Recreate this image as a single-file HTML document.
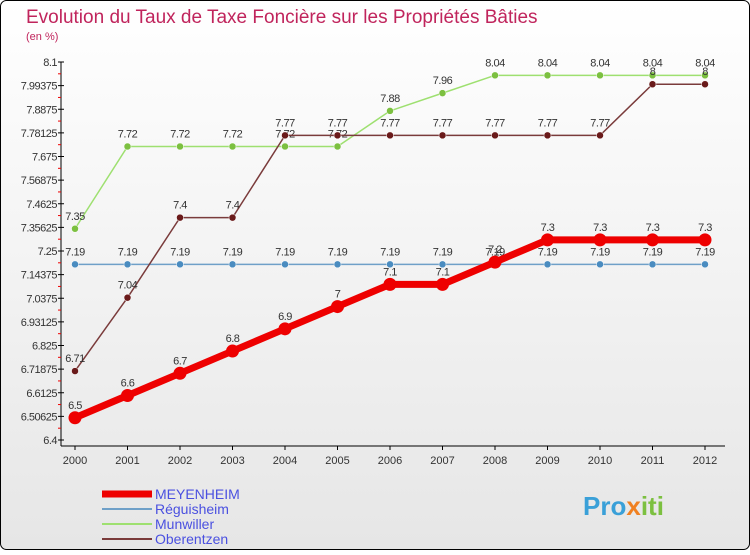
<!DOCTYPE html>
<html><head><meta charset="utf-8"><style>
body{margin:0;width:750px;height:550px;overflow:hidden;font-family:"Liberation Sans",sans-serif}
svg text{font-family:"Liberation Sans",sans-serif}
</style></head><body>
<svg id="c" width="750" height="550" xmlns="http://www.w3.org/2000/svg">
<defs><linearGradient id="bg" x1="0" y1="0" x2="0" y2="1"><stop offset="0" stop-color="#ffffff"/><stop offset="1" stop-color="#e6e6e6"/></linearGradient></defs>
<rect x="0.5" y="0.5" width="749" height="549" rx="6" fill="url(#bg)" stroke="#000"/>
<text x="26" y="23" font-size="19" fill="#c0245c">Evolution du Taux de Taxe Foncière sur les Propriétés Bâties</text>
<text x="26" y="40" font-size="11" fill="#c0245c">(en %)</text>
<g id="axes"></g><g id="series"></g><g id="legend"></g>
<text x="583" y="515" font-size="26" font-weight="bold" fill="#3aa0d8">Pro<tspan fill="#f08020">x</tspan><tspan fill="#7cc040">iti</tspan></text>
</svg>
<script>
const years=[2000,2001,2002,2003,2004,2005,2006,2007,2008,2009,2010,2011,2012];
const yTicks=[6.4,6.50625,6.6125,6.71875,6.825,6.93125,7.0375,7.14375,7.25,7.35625,7.4625,7.56875,7.675,7.78125,7.8875,7.99375,8.1];
const meyenheim=[6.5,6.6,6.7,6.8,6.9,7,7.1,7.1,7.2,7.3,7.3,7.3,7.3];
const reguisheim=[7.19,7.19,7.19,7.19,7.19,7.19,7.19,7.19,7.19,7.19,7.19,7.19,7.19];
const munwiller=[7.35,7.72,7.72,7.72,7.72,7.72,7.88,7.96,8.04,8.04,8.04,8.04,8.04];
const oberentzen=[6.71,7.04,7.4,7.4,7.77,7.77,7.77,7.77,7.77,7.77,7.77,8,8];
const seriesNames=["MEYENHEIM","Réguisheim","Munwiller","Oberentzen"];
const NS="http://www.w3.org/2000/svg";
const yMin=6.4,yMax=8.1,yTop=62,yBot=440,x0=75,x1=705,axisX=61;
const X=i=>x0+(x1-x0)*i/(years.length-1);
const Y=v=>yBot-(v-yMin)/(yMax-yMin)*(yBot-yTop);
function mk(tag,attrs,parent,text){const e=document.createElementNS(NS,tag);for(const k in attrs)e.setAttribute(k,attrs[k]);if(text!==undefined)e.textContent=text;parent.appendChild(e);return e;}
const ax=document.getElementById('axes');
let e=mk('line',{x1:axisX,y1:yTop,x2:axisX,y2:yBot+6,stroke:'#000'},ax);


e=mk('line',{x1:axisX,y1:yBot+6,x2:x1+20,y2:yBot+6,stroke:'#000'},ax);


yTicks.forEach((t,i)=>{const y=Y(t);
 mk('line',{x1:axisX-3,y1:y,x2:axisX+3,y2:y,stroke:'#000'},ax);
 if(i<yTicks.length-1){mk('line',{x1:axisX-3,y1:(y+Y(yTicks[i+1]))/2,x2:axisX,y2:(y+Y(yTicks[i+1]))/2,stroke:'#e00'},ax);}
 const l=mk('text',{x:axisX-4,y:y+4,'font-size':11,'text-anchor':'end',fill:'#333','letter-spacing':'-0.5'},ax,String(t));
 
 
});
years.forEach((yr,i)=>{const x=X(i);
 mk('line',{x1:x,y1:yBot+6,x2:x,y2:yBot+10,stroke:'#000'},ax);
 const l=mk('text',{x:x,y:yBot+24,'font-size':11,'text-anchor':'middle',fill:'#333'},ax,String(yr));
 
 
});
const sg=document.getElementById('series');
const defs=[[reguisheim,'#6fa0c8',1.5,3.5,'#4a8cc0'],[munwiller,'#9ee070',1.5,3.5,'#7cc040'],[oberentzen,'#7a3b3b',1.5,3.5,'#6a1a1a'],[meyenheim,'#ee0000',7,6.5,'#ee0000']];
const names=['reguisheim','munwiller','oberentzen','meyenheim'];
defs.forEach((d,k)=>{const [vals,col,w,r,mc]=d;
 const g=mk('g',{},sg);
 
 
 const p=mk('polyline',{points:vals.map((v,i)=>X(i)+','+Y(v)).join(' '),fill:'none',stroke:col,'stroke-width':w,'stroke-linejoin':'round'},g);
 
 
 vals.forEach((v,i)=>{
  const c=mk('circle',{cx:X(i),cy:Y(v),r:r,fill:mc,stroke:'#fff','stroke-width':k==3?0:0.5},g);
  
  
  const t=mk('text',{x:X(i),y:Y(v)-9,'font-size':11,'text-anchor':'middle',fill:'#333','letter-spacing':'-0.5'},g,String(v));
  
  
 });
});
const lg=document.getElementById('legend');
const legCols=['#ee0000','#6fa0c8','#9ee070','#7a3b3b'],legW=[7,2,2,2];
seriesNames.forEach((n,i)=>{const y=494+i*15;
 const g=mk('g',{},lg);
 
 
 mk('line',{x1:102,y1:y,x2:152,y2:y,stroke:legCols[i],'stroke-width':legW[i]},g);
 mk('text',{x:155,y:y+5,'font-size':14,fill:'#4a50e0'},g,n);
});
</script>
</body></html>
